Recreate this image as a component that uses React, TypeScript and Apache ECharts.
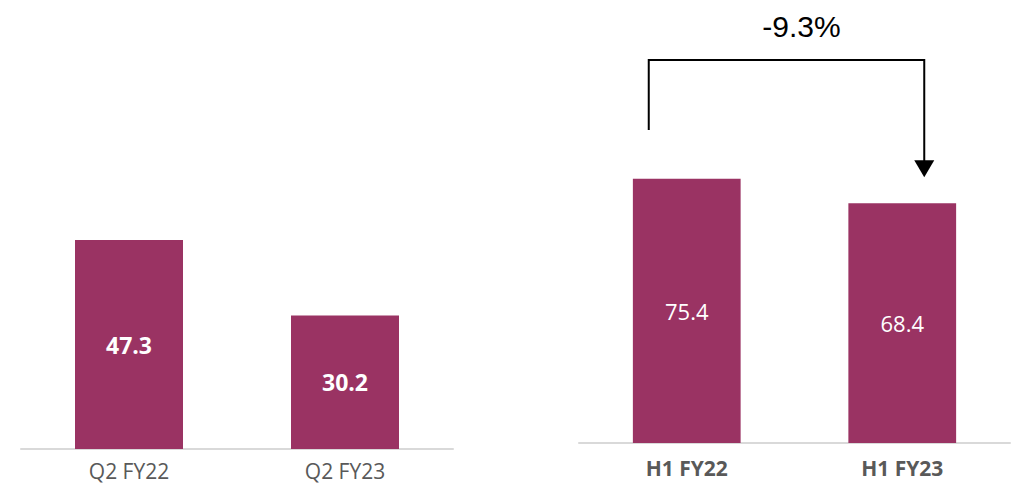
import React, { useEffect, useRef } from "react";
import * as echarts from "echarts";

const quarterCategories = ["Q2 FY22", "Q2 FY23"];
const quarterValues = [47.3, 30.2];
const halfCategories = ["H1 FY22", "H1 FY23"];
const halfValues = [75.4, 68.4];
const changeLabel = "-9.3%";

const BAR_COLOR = "#9A3363";
const FONT = "'Open Sans', 'Noto Sans', sans-serif";

export default function App() {
  const ref = useRef<HTMLDivElement>(null);
  useEffect(() => {
    if (!ref.current) return;
    const chart = echarts.init(ref.current, null, { renderer: "svg" });
    const option: any = {
      animation: false,
      backgroundColor: "#ffffff",
      grid: [
        { left: 21, width: 432, top: 184, bottom: 36 },
        { left: 579, width: 431, top: 92.5, bottom: 42 },
      ],
      xAxis: [
        {
          type: "category",
          gridIndex: 0,
          data: quarterCategories,
          axisLine: { lineStyle: { color: "#d9d9d9", width: 2 } },
          axisTick: { show: false },
          axisLabel: { color: "#595959", fontSize: 21, lineHeight: 18, fontFamily: FONT, margin: 13 },
        },
        {
          type: "category",
          gridIndex: 1,
          data: halfCategories,
          axisLine: { lineStyle: { color: "#d9d9d9", width: 2 } },
          axisTick: { show: false },
          axisLabel: { color: "#595959", fontSize: 21, lineHeight: 18, fontWeight: "bold", fontFamily: FONT, margin: 16 },
        },
      ],
      yAxis: [
        { type: "value", gridIndex: 0, min: 0, max: 60, show: false },
        { type: "value", gridIndex: 1, min: 0, max: 100, show: false },
      ],
      series: [
        {
          type: "bar",
          xAxisIndex: 0,
          yAxisIndex: 0,
          data: quarterValues,
          barWidth: "50%",
          itemStyle: { color: BAR_COLOR },
          label: {
            show: true,
            position: "inside",
            color: "#ffffff",
            fontSize: 23,
            fontWeight: "bold",
            fontFamily: FONT,
            formatter: (p: any) => p.value.toFixed(1),
          },
        },
        {
          type: "bar",
          xAxisIndex: 1,
          yAxisIndex: 1,
          data: halfValues,
          barWidth: "50%",
          itemStyle: { color: BAR_COLOR },
          label: {
            show: true,
            position: "inside",
            color: "#ffffff",
            fontSize: 22,
            fontFamily: FONT,
            formatter: (p: any) => p.value.toFixed(1),
          },
        },
      ],
    };
    chart.setOption(option);

    const p1 = chart.convertToPixel({ gridIndex: 1 }, [0, halfValues[0]]) as number[];
    const p2 = chart.convertToPixel({ gridIndex: 1 }, [1, halfValues[1]]) as number[];
    const xl = p1[0] - 38;
    const xr = p2[0] + 22;
    const yTop = 60;
    const yLeftEnd = 130;
    const tipY = p2[1] - 26;
    chart.setOption({
      graphic: [
        {
          type: "polyline",
          shape: { points: [[xl, yLeftEnd], [xl, yTop], [xr, yTop], [xr, tipY - 15]] },
          style: { stroke: "#000", lineWidth: 2, fill: null },
        },
        {
          type: "polygon",
          shape: { points: [[xr - 10, tipY - 17], [xr + 10, tipY - 17], [xr, tipY]] },
          style: { fill: "#000" },
        },
        {
          type: "text",
          x: (xl + xr) / 2 + 15,
          y: 26,
          style: {
            text: changeLabel,
            fill: "#000",
            font: "30px 'Liberation Sans', Arial, sans-serif",
            align: "center",
            verticalAlign: "middle",
          },
        },
      ],
    });
    return () => chart.dispose();
  }, []);
  return (
    <div
      ref={ref}
      style={{ position: "absolute", left: 0, top: 0, width: 1033, height: 485 }}
    />
  );
}
